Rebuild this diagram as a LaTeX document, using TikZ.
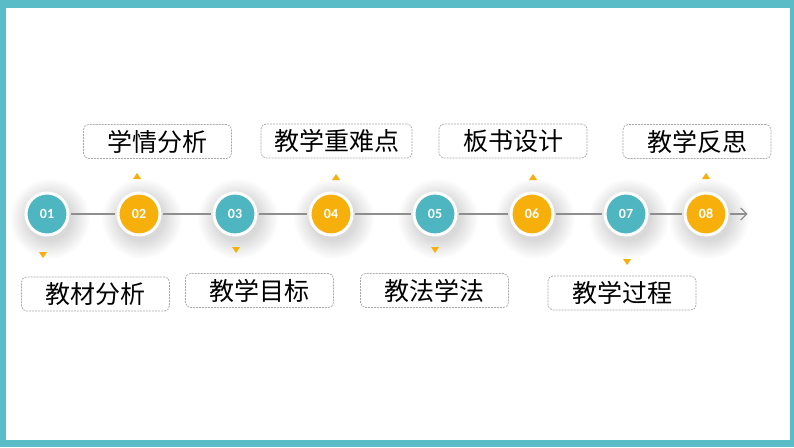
\documentclass[tikz,border=0pt]{standalone}
\usepackage{fontspec}
\setmainfont{Noto Sans CJK SC}
\newfontfamily\numfont{Carlito}
\usetikzlibrary{arrows.meta}
\definecolor{framec}{HTML}{5ABCC6}
\definecolor{tealc}{HTML}{4DB6C1}
\definecolor{orangec}{HTML}{F7AF0C}
\definecolor{linec}{HTML}{8E8E8E}
\definecolor{boxc}{HTML}{A8A8A8}
\begin{document}
\begin{tikzpicture}[x=1pt,y=-1pt,
    dot/.style={circle,draw=white,line width=3pt,minimum size=42pt,inner sep=0pt,
      text=white,font=\numfont\bfseries\fontsize{14}{14}\selectfont},
    lbl/.style={draw=boxc,dash pattern=on 2pt off 1pt,line width=0.7pt,rounded corners=5pt,
      minimum width=148pt,minimum height=34pt,inner xsep=13pt,inner ysep=0pt,
      font=\fontsize{25}{25}\selectfont},
    tline/.style={linec,line width=1.2pt,shorten <=1.5pt,shorten >=1.5pt}]
  % frame
  \fill[framec] (0,0) rectangle (794,447);
  \fill[white] (6,8) rectangle (790,440);
  % soft shadows under the circles
  \foreach \x in {47,139,235,331,435,532,626,706}
    \foreach \r in {22,...,40}
      \fill[black,opacity=0.009] (\x+3,219) circle (\r pt);
  % circles
  \foreach \x/\c/\n [count=\i] in {47/tealc/01,139/orangec/02,235/tealc/03,331/orangec/04,
      435/tealc/05,532/orangec/06,626/tealc/07,706/orangec/08}
    \node[dot,fill=\c] (c\i) at (\x,214) {\n};
  \coordinate (end) at (749,214);
  % time line
  \foreach \i [evaluate=\i as \j using int(\i+1)] in {1,...,7}
    \draw[tline] (c\i) -- (c\j);
  \draw[tline,-{Straight Barb[length=6pt,width=12pt]}] (c8) -- (end);
  % labels
  \node[lbl] (l1) at (95.5,294) {教材分析};
  \node[lbl] (l2) at (157.5,141.5) {学情分析};
  \node[lbl] (l3) at (259.5,290.5) {教学目标};
  \node[lbl] (l4) at (336.5,141) {教学重难点};
  \node[lbl] (l5) at (434.5,290.5) {教法学法};
  \node[lbl] (l6) at (513,141) {板书设计};
  \node[lbl] (l7) at (622,293) {教学过程};
  \node[lbl] (l8) at (697,141.5) {教学反思};
  % small marks
  \foreach \x/\y in {43/255,236/250,435/250,627/262}
    \fill[orangec] (\x-4,\y-3) -- (\x+4,\y-3) -- (\x,\y+3) -- cycle;
  \foreach \x/\y in {137/176,336/177,533/177,706/176}
    \fill[orangec] (\x-4,\y+3) -- (\x+4,\y+3) -- (\x,\y-3) -- cycle;
\end{tikzpicture}
\end{document}
